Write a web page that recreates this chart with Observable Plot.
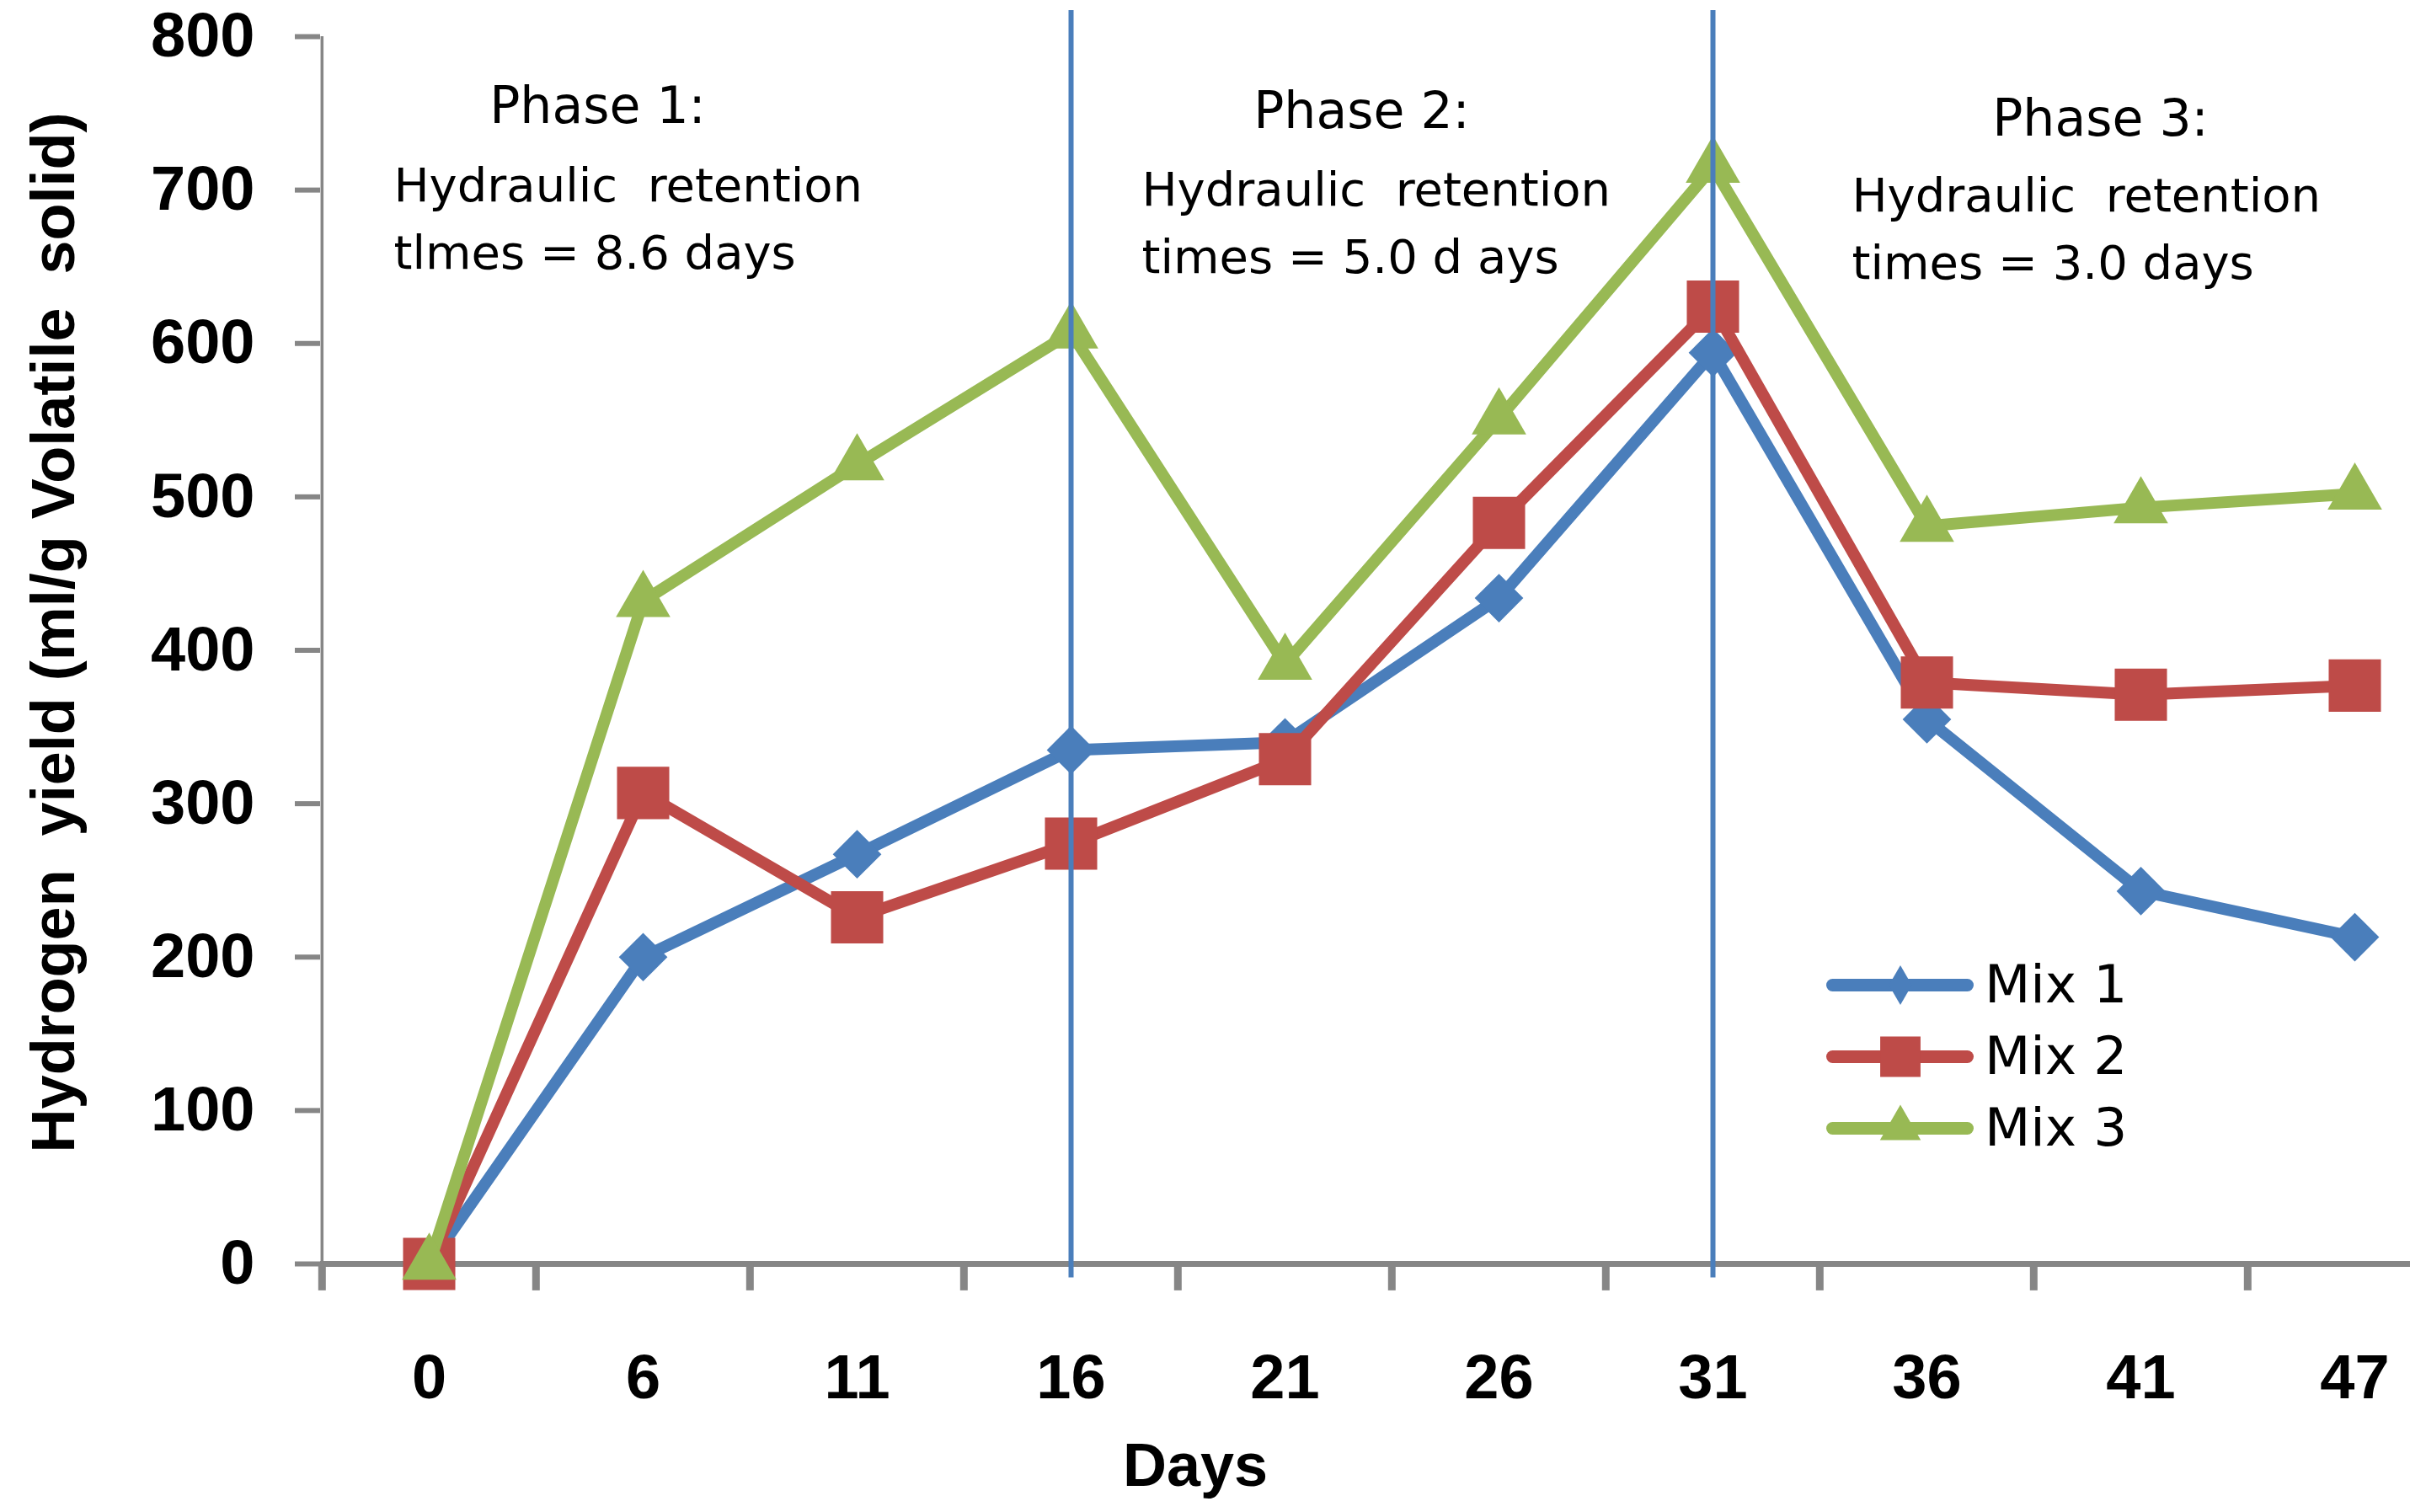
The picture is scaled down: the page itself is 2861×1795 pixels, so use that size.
<!DOCTYPE html>
<html><head><meta charset="utf-8">
<script src="https://cdn.jsdelivr.net/npm/d3@7"></script>
<script src="https://cdn.jsdelivr.net/npm/@observablehq/plot@0.6"></script>
<style>
html,body{margin:0;padding:0;background:#fff;}
#wrap{position:relative;width:2861px;height:1795px;overflow:hidden;}
#legend{position:absolute;left:2150px;top:1110px;}
svg{display:block}
</style></head><body><div id="wrap"><div id="chart"></div><div id="legend"></div></div>
<script>
// ---- data ----
const days = ["0","6","11","16","21","26","31","36","41","47"];
const mix1 = [0,200,267,335,340,434,594,355,243,213];
const mix2 = [0,307,226,274,329,483,624,379,371,377];
const mix3 = [0,432,521,607,391,551,715,481,493,502];
const seriesNames = ["Mix 1","Mix 2","Mix 3"];
const seriesColors = ["#4A7EBB","#BE4B48","#98B954"];
const yTicks = [0,100,200,300,400,500,600,700,800];
const phaseDays = ["16","31"];
const phaseTitles = ["Phase 1:","Phase 2:","Phase 3:"];
const phaseNotes = [
  "Hydraulic  retention\ntlmes = 8.6 days",
  "Hydraulic  retention\ntimes = 5.0 d ays",
  "Hydraulic  retention\ntimes = 3.0 days"
];
const yTitle = "Hydrogen  yield (ml/g Volatile  solid)";
const xTitle = "Days";

// ---- table ----
const seriesValues = [mix1, mix2, mix3];
const rows = seriesNames.flatMap((s, k) => days.map((d, i) => ({day: d, series: s, value: seriesValues[k][i]})));

// ---- styling ----
const W = 2861, H = 1795, ML = 380, MT = 43, MB = 295;
const bw = 254.4;
const gray = "#868686";
const noteFont = "DejaVu Sans, Verdana, sans-serif";
const symbols = ["diamond2", "square", "triangle"];
const radii = [26, 35, 24];

const seriesMarks = seriesNames.flatMap((s, k) => {
  const data = rows.filter(r => r.series === s);
  return [
    Plot.line(data, {x: "day", y: "value", stroke: seriesColors[k], strokeWidth: 14, strokeLinejoin: "round", strokeLinecap: "round"}),
    Plot.dot(data, {x: "day", y: "value", symbol: symbols[k], r: radii[k], fill: seriesColors[k], stroke: "none"})
  ];
});

const titleOpts = {fontFamily: noteFont, fontSize: 60, fill: "black", textAnchor: "middle"};
const bodyOpts = {fontFamily: noteFont, fontSize: 56, fill: "black", textAnchor: "start", lineAnchor: "middle", lineHeight: 1.43};

const chart = Plot.plot({
  width: W, height: H,
  marginLeft: ML, marginRight: 0, marginTop: MT, marginBottom: MB,
  style: {fontFamily: "Liberation Sans, Arial, sans-serif", background: "white", color: "black"},
  x: {type: "band", domain: days, range: [ML, ML + days.length * bw], padding: 0},
  y: {domain: [0, 800]},
  marks: [
    // axis lines and ticks
    Plot.ruleY([0], {stroke: gray, strokeWidth: 7}),
    Plot.ruleX([days[0]], {x: d => d, dx: -bw / 2, y1: 0, y2: 800, stroke: gray, strokeWidth: 3.5}),
    Plot.ruleX(days, {x: d => d, dx: -bw / 2, y1: 0, y2: -17.5, stroke: gray, strokeWidth: 9}),
    Plot.axisY({ticks: yTicks, tickSize: 30, tickPadding: 48, stroke: gray, strokeWidth: 6, fill: "black",
      fontSize: 74, fontWeight: "bold", label: null, tickFormat: d => String(d)}),
    Plot.axisX({tickSize: 0, tickPadding: 107, fill: "black", fontSize: 74, fontWeight: "bold", label: null}),
    // axis titles
    Plot.text([yTitle], {frameAnchor: "left", textAnchor: "middle", lineAnchor: "middle", dx: -316, dy: -21, rotate: -90, fontSize: 72, fontWeight: "bold", fill: "black"}),
    Plot.text([xTitle], {frameAnchor: "bottom", textAnchor: "middle", lineAnchor: "middle", dx: -202, dy: 240, fontSize: 72, fontWeight: "bold", fill: "black"}),
    // phase annotations
    Plot.text([phaseTitles[0]], {...titleOpts, x: ["6"], y: [754], dx: -54}),
    Plot.text([phaseTitles[1]], {...titleOpts, x: ["21"], y: [751], dx: 91}),
    Plot.text([phaseTitles[2]], {...titleOpts, x: ["41"], y: [746], dx: -48}),
    Plot.text([phaseNotes[0]], {...bodyOpts, x: ["0"], y: [685], dx: -42}),
    Plot.text([phaseNotes[1]], {...bodyOpts, x: ["16"], y: [682], dx: 84}),
    Plot.text([phaseNotes[2]], {...bodyOpts, x: ["31"], y: [678], dx: 165}),
    // series
    ...seriesMarks,
    // phase boundaries
    Plot.ruleX(phaseDays, {x: d => d, y1: -9, y2: 817, stroke: "#4A7EBB", strokeWidth: 6})
  ]
});
document.getElementById("chart").appendChild(chart);

// ---- legend ----
const legendSymbols = ["diamond", "square", "triangle"];
const legendRadii = [14.3, 27, 18];
const legend = Plot.plot({
  width: 420, height: 290, margin: 0,
  style: {background: "transparent", overflow: "visible", fontFamily: noteFont},
  x: {domain: [0, 1], range: [25.5, 185.5], axis: null},
  y: {type: "point", domain: seriesNames, range: [58, 229], padding: 0, axis: null},
  color: {domain: seriesNames, range: seriesColors},
  marks: [
    Plot.ruleY(seriesNames, {y: d => d, x1: 0, x2: 1, stroke: d => d, strokeWidth: 15, strokeLinecap: "round"}),
    ...seriesNames.map((s, k) => Plot.dot([s], {x: () => 0.5, y: d => d, symbol: legendSymbols[k], r: legendRadii[k], fill: seriesColors[k], stroke: "none"})),
    Plot.text(seriesNames, {x: () => 1, y: d => d, text: d => d, dx: 20, textAnchor: "start", fontSize: 63, fill: "black"})
  ]
});
document.getElementById("legend").appendChild(legend);
</script>
</body></html>
